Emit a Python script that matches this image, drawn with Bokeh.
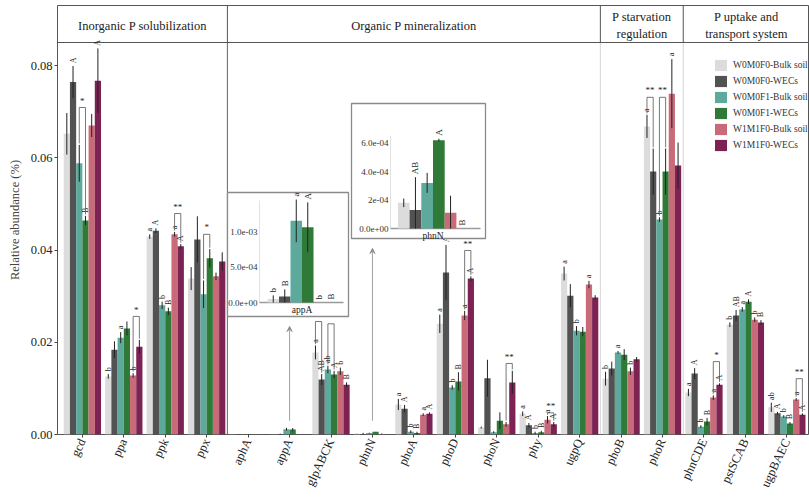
import numpy as np
from bokeh.plotting import figure
from bokeh.models import (Range1d, FixedTicker, NumeralTickFormatter, ColumnDataSource,
                          Label, Arrow, VeeHead, Legend, LegendItem)
from bokeh.core.properties import value
from bokeh.embed import file_html
from bokeh.resources import INLINE

# ---------------- data ----------------
genes = ["gcd", "ppa", "ppk", "ppx", "aphA", "appA", "glpABCK", "phnN", "phoA", "phoD",
         "phoN", "phy", "ugpQ", "phoB", "phoR", "phnCDE", "pstSCAB", "ugpBAEC"]
series_names = ["W0M0F0-Bulk soil", "W0M0F0-WECs", "W0M0F1-Bulk soil",
                "W0M0F1-WECs", "W1M1F0-Bulk soil", "W1M1F0-WECs"]
series_colors = ["#DCDCDC", "#525252", "#5DA99B", "#2F7A37", "#C96A78", "#7C2353"]

w0m0f0_bulk = [0.0652, 0.0126, 0.0429, 0.0338, 0.00005, 0.00005, 0.0178, 0.00018, 0.0065,
               0.0240, 0.0015, 0.0045, 0.0349, 0.0121, 0.0668, 0.0091, 0.0238, 0.0059]
w0m0f0_wecs = [0.0764, 0.0184, 0.0442, 0.0423, 0.00003, 0.000085, 0.0119, 0.00013, 0.0056,
               0.0351, 0.0122, 0.0020, 0.0301, 0.0143, 0.0570, 0.0132, 0.0258, 0.0046]
w0m0f1_bulk = [0.0588, 0.0210, 0.0280, 0.0304, 0.00008, 0.00115, 0.0141, 0.00032, 0.0006,
               0.0102, 0.0005, 0.0003, 0.0225, 0.0178, 0.0466, 0.0017, 0.0271, 0.0039]
w0m0f1_wecs = [0.0464, 0.0230, 0.0267, 0.0382, 0.00006, 0.00106, 0.0130, 0.00062, 0.0003,
               0.0115, 0.0030, 0.0005, 0.0223, 0.0173, 0.0570, 0.0028, 0.0288, 0.0024]
w1m1f0_bulk = [0.0670, 0.0128, 0.0434, 0.0343, 0.00003, 0.0, 0.0137, 0.00011, 0.0043,
               0.0258, 0.0022, 0.0032, 0.0325, 0.0137, 0.0739, 0.0080, 0.0249, 0.0076]
w1m1f0_wecs = [0.0767, 0.0190, 0.0408, 0.0375, 0.00002, 0.0, 0.0108, 0.0, 0.0045,
               0.0338, 0.0113, 0.0022, 0.0297, 0.0163, 0.0583, 0.0108, 0.0243, 0.0043]

err_w0m0f0_bulk = [0.0045, 0.0005, 0.0005, 0.0025, 0.00002, 0.00005, 0.0015, 0.00003, 0.0012,
                   0.0020, 0.0002, 0.0005, 0.0015, 0.0015, 0.0025, 0.0008, 0.0005, 0.0010]
err_w0m0f0_wecs = [0.0035, 0.0018, 0.0005, 0.0050, 0.00002, 0.0001, 0.0012, 0.00023, 0.0008,
                   0.0060, 0.0040, 0.0005, 0.0025, 0.0015, 0.0050, 0.0012, 0.0012, 0.0003]
err_w0m0f1_bulk = [0.0040, 0.0012, 0.0008, 0.0030, 0.00004, 0.0003, 0.0008, 0.00007, 0.0003,
                   0.0005, 0.0002, 0.0003, 0.0010, 0.0003, 0.0005, 0.0003, 0.0005, 0.0003]
err_w0m0f1_wecs = [0.0010, 0.0015, 0.0008, 0.0020, 0.00003, 0.00035, 0.0008, 0.00001, 0.0003,
                   0.0020, 0.0018, 0.0003, 0.0010, 0.0012, 0.0050, 0.0008, 0.0005, 0.0003]
err_w1m1f0_bulk = [0.0025, 0.0005, 0.0005, 0.0008, 0.00002, 0.0, 0.0008, 0.00012, 0.0003,
                   0.0010, 0.0005, 0.0008, 0.0008, 0.0008, 0.0075, 0.0005, 0.0005, 0.0003]
err_w1m1f0_wecs = [0.0070, 0.0015, 0.0005, 0.0020, 0.00001, 0.0, 0.0005, 0.0, 0.0003,
                   0.0005, 0.0025, 0.0005, 0.0005, 0.0005, 0.0050, 0.0003, 0.0005, 0.0003]

let_w0m0f0_bulk = ["", "b", "a", "", "", "", "a", "", "a", "a", "", "a", "a", "b", "a", "a", "b", "ab"]
let_w0m0f0_wecs = ["A", "", "A", "", "", "", "AB", "", "A", "A", "", "A", "", "", "", "A", "AB", "A"]
let_w0m0f1_bulk = ["", "a", "b", "", "", "", "ab", "", "b", "b", "", "b", "b", "a", "b", "b", "a", "b"]
let_w0m0f1_wecs = ["B", "", "B", "", "", "", "A", "", "B", "B", "", "B", "", "", "", "B", "A", "B"]
let_w1m1f0_bulk = ["", "b", "a", "", "", "", "b", "", "a", "a", "", "a", "a", "b", "a", "a", "b", "a"]
let_w1m1f0_wecs = ["A", "", "A", "", "", "", "B", "", "A", "A", "", "A", "", "", "", "A", "B", "A"]

# significance brackets between bulk soil and WECs of one treatment
bracket_gene = ["gcd", "ppa", "ppk", "ppx", "glpABCK", "glpABCK", "phoD", "phoN", "phy",
                "phoR", "phoR", "phnCDE", "ugpBAEC"]
bracket_treat = ["W0M0F1", "W1M1F0", "W1M1F0", "W0M0F1", "W0M0F0", "W0M0F1", "W1M1F0",
                 "W1M1F0", "W1M1F0", "W0M0F0", "W0M0F1", "W1M1F0", "W1M1F0"]
bracket_top = [0.0709, 0.0256, 0.0479, 0.0434, 0.0245, 0.0240, 0.0399, 0.0154, 0.0047,
               0.0731, 0.0731, 0.0158, 0.0121]
bracket_star = ["*", "*", "**", "*", "**", "*", "**", "**", "**", "**", "**", "*", "**"]
treatments = ["W0M0F0", "W0M0F1", "W1M1F0"]

group_names = ["Inorganic P solubilization", "Organic P mineralization",
               "P starvation\nregulation", "P uptake and\ntransport system"]
group_first = ["gcd", "aphA", "phoB", "phnCDE"]
group_last = ["ppx", "ugpQ", "phoR", "ugpBAEC"]

y_ticks = [0.0, 0.02, 0.04, 0.06, 0.08]

appA_letters = ["b", "B", "a", "A", "b", "B"]
appA_ticks = [0.0, 0.0005, 0.001]
appA_tick_labels = ["0.0e+00", "5.0e-04", "1.0e-03"]
phnN_letters = ["", "AB", "", "A", "", "B"]
phnN_ticks = [0.0, 0.0002, 0.0004, 0.0006]
phnN_tick_labels = ["0.0e+00", "2e-04", "4.0e-04", "6.0e-04"]

values = [w0m0f0_bulk, w0m0f0_wecs, w0m0f1_bulk, w0m0f1_wecs, w1m1f0_bulk, w1m1f0_wecs]
errors = [err_w0m0f0_bulk, err_w0m0f0_wecs, err_w0m0f1_bulk, err_w0m0f1_wecs,
          err_w1m1f0_bulk, err_w1m1f0_wecs]
letters = [let_w0m0f0_bulk, let_w0m0f0_wecs, let_w0m0f1_bulk, let_w0m0f1_wecs,
           let_w1m1f0_bulk, let_w1m1f0_wecs]

# ---------------- layout ----------------
FONT = value("Liberation Serif")
FIG_W, FIG_H = 809, 502
FRAME_L, FRAME_T, FRAME_R, FRAME_B = 57, 5, 809, 434   # page px
W = FRAME_R - FRAME_L
H = FRAME_B - FRAME_T
XR = (0.4, 0.4 + W / 41.44)
YR = (0.0, H * 0.08 / 369.0)
HEADER_Y = (FRAME_B - 42) * 0.08 / 369.0
BAR_W = 0.15
offsets = [(k - 2.5) * BAR_W for k in range(6)]
gx = np.arange(1, len(genes) + 1, dtype=float)


def px2x(px):
    return XR[0] + (px - FRAME_L) * (XR[1] - XR[0]) / W


def py2y(py):
    return YR[0] + (FRAME_B - py) * (YR[1] - YR[0]) / H


p = figure(width=FIG_W, height=FIG_H, x_range=Range1d(*XR), y_range=Range1d(*YR),
           output_backend="svg", toolbar_location=None,
           min_border_left=FRAME_L, min_border_right=FIG_W - FRAME_R,
           min_border_top=FRAME_T, min_border_bottom=FIG_H - FRAME_B)
p.background_fill_color = "white"
p.border_fill_color = "white"
p.outline_line_color = "#555555"
p.outline_line_width = 1
p.xgrid.visible = False
p.ygrid.visible = False

# axes
p.xaxis.ticker = FixedTicker(ticks=list(gx))
p.xaxis.major_label_overrides = {float(i + 1): g for i, g in enumerate(genes)}
p.xaxis.major_label_orientation = 1.13
p.xaxis.major_label_text_font = "Liberation Serif"
p.xaxis.major_label_text_font_size = "12.5px"
p.xaxis.major_label_text_color = "#222222"
p.xaxis.axis_line_color = None
p.xaxis.major_tick_out = 3
p.xaxis.major_tick_in = 0
p.xaxis.minor_tick_line_color = None
p.xaxis.major_tick_line_color = "#444444"
p.xaxis.major_label_standoff = 2

p.yaxis.ticker = FixedTicker(ticks=y_ticks)
p.yaxis.formatter = NumeralTickFormatter(format="0.00")
p.yaxis.major_label_text_font = "Liberation Serif"
p.yaxis.major_label_text_font_size = "12.5px"
p.yaxis.major_label_text_color = "#222222"
p.yaxis.axis_line_color = None
p.yaxis.major_tick_out = 3
p.yaxis.major_tick_in = 0
p.yaxis.minor_tick_line_color = None
p.yaxis.major_tick_line_color = "#444444"
p.yaxis.major_label_standoff = 2
p.yaxis.axis_label = "Relative abundance (%)"
p.yaxis.axis_label_text_font = "Liberation Serif"
p.yaxis.axis_label_text_font_size = "12.5px"
p.yaxis.axis_label_text_font_style = "normal"
p.yaxis.axis_label_standoff = 6

# separators and header
bounds = [genes.index(g) + 1.5 for g in group_last[:-1]]
p.segment(x0=bounds, y0=[HEADER_Y] * 3, x1=bounds, y1=[YR[1]] * 3,
          line_color="#555555", line_width=1)
p.segment(x0=bounds[:1], y0=[0], x1=bounds[:1], y1=[HEADER_Y], line_color="#666666", line_width=1)
p.segment(x0=bounds[1:], y0=[0, 0], x1=bounds[1:], y1=[HEADER_Y, HEADER_Y],
          line_color="#d4d4d4", line_width=1)
p.segment(x0=[XR[0]], y0=[HEADER_Y], x1=[XR[1]], y1=[HEADER_Y], line_color="#555555", line_width=1)

g_start = [XR[0]] + bounds
g_end = bounds + [XR[1]]
g_center = [(a + b) / 2 for a, b in zip(g_start, g_end)]
p.text(x=g_center, y=[py2y(25)] * 4, text=group_names, text_align="center",
       text_baseline="middle", text_font=FONT, text_font_size=value("12.5px"),
       text_color="#222222", text_line_height=1.25)

# main bars
renderers = []
for k in range(6):
    xs = gx + offsets[k]
    v = np.array(values[k])
    e = np.array(errors[k])
    src = ColumnDataSource(dict(x=xs, top=v))
    r = p.vbar(x="x", top="top", bottom=0, width=BAR_W, fill_color=series_colors[k],
               line_color=None, source=src)
    renderers.append(r)
    p.segment(x0=xs, y0=np.maximum(v - e, 0), x1=xs, y1=v + e, line_color="#222222", line_width=1)
    lx = [xs[i] for i in range(len(genes)) if letters[k][i]]
    ly = [v[i] + e[i] + 0.0006 for i in range(len(genes)) if letters[k][i]]
    lt = [letters[k][i] for i in range(len(genes)) if letters[k][i]]
    p.text(x=lx, y=ly, text=lt, angle=np.pi / 2, text_align="left", text_baseline="middle",
           text_font=FONT, text_font_size=value("8px"), text_color="#222222")

# significance brackets
bx0, by0, bx1, by1, sx, sy = [], [], [], [], [], []
for g, t, top in zip(bracket_gene, bracket_treat, bracket_top):
    gi = genes.index(g)
    ti = treatments.index(t)
    k1, k2 = 2 * ti, 2 * ti + 1
    x1 = gx[gi] + offsets[k1]
    x2 = gx[gi] + offsets[k2]
    y1 = values[k1][gi] + errors[k1][gi] + 0.0003
    y2 = values[k2][gi] + errors[k2][gi] + 0.0003
    bx0 += [x1, x2, x1]
    by0 += [y1, y2, top]
    bx1 += [x1, x2, x2]
    by1 += [top, top, top]
    sx.append((x1 + x2) / 2)
    sy.append(top + 0.0004)
p.segment(x0=bx0, y0=by0, x1=bx1, y1=by1, line_color="#555555", line_width=0.8)
p.text(x=sx, y=sy, text=bracket_star, text_align="center", text_baseline="bottom",
       text_font=FONT, text_font_size=value("9px"), text_color="#222222")


# ---------------- insets ----------------
def draw_inset(name, box, center_px, bar_px, zero_py, per_px, yaxis_px, xaxis_end_px,
               yaxis_top_py, label_py, ticks, tick_labels, ins_letters):
    gi = genes.index(name)
    unit_px = bar_px / BAR_W
    xs0 = 1 - (center_px - FRAME_L) / unit_px
    ys0 = -(FRAME_B - zero_py) * per_px
    xr_name, yr_name = name + "_x", name + "_y"
    p.extra_x_ranges[xr_name] = Range1d(xs0, xs0 + W / unit_px)
    p.extra_y_ranges[yr_name] = Range1d(ys0, ys0 + H * per_px)

    def ix(px):
        return xs0 + (px - FRAME_L) / unit_px

    def iy(py):
        return ys0 + (FRAME_B - py) * per_px

    kw = dict(x_range_name=xr_name, y_range_name=yr_name)
    l, t, r, b = box
    p.quad(left=[px2x(l)], right=[px2x(r)], top=[py2y(t)], bottom=[py2y(b)],
           fill_color="white", line_color="#8a8a8a", line_width=1.3)
    p.segment(x0=[ix(yaxis_px)], y0=[0], x1=[ix(yaxis_px)], y1=[iy(yaxis_top_py)],
              line_color="#e2e2e2", line_width=1, **kw)
    p.segment(x0=[ix(yaxis_px)], y0=[0], x1=[ix(xaxis_end_px)], y1=[0],
              line_color="#9a9a9a", line_width=1.5, **kw)
    p.text(x=[ix(yaxis_px - 2)] * len(ticks), y=ticks, text=tick_labels, text_align="right",
           text_baseline="middle", text_font=FONT, text_font_size=value("9px"),
           text_color="#333333", **kw)
    p.text(x=[1.0], y=[iy(label_py)], text=[name], text_align="center", text_baseline="middle",
           text_font=FONT, text_font_size=value("9.5px"), text_color="#222222", **kw)
    for k in range(6):
        xk = 1.0 + offsets[k]
        v = values[k][gi]
        e = errors[k][gi]
        p.vbar(x=[xk], top=[v], bottom=0, width=BAR_W, fill_color=series_colors[k],
               line_color=None, **kw)
        if e > 0:
            p.segment(x0=[xk], y0=[max(v - e, 0)], x1=[xk], y1=[v + e], line_color="#222222",
                      line_width=1, **kw)
        if ins_letters[k]:
            p.text(x=[xk], y=[v + e + 3 * per_px], text=[ins_letters[k]], angle=np.pi / 2,
                   text_align="left", text_baseline="middle", text_font=FONT,
                   text_font_size=value("9px"), text_color="#222222", **kw)
    p.add_layout(Arrow(end=VeeHead(size=5, line_color="#8a8a8a", fill_color="#8a8a8a"),
                       x_start=gx[gi], y_start=0.003, x_end=gx[gi], y_end=py2y(b + 10),
                       line_color="#a0a0a0", line_width=1))


draw_inset("appA", (227, 192, 348, 316), 301.5, 11.5, 302, 0.001 / 71, 259, 343, 200, 309,
           appA_ticks, appA_tick_labels, appA_letters)
draw_inset("phnN", (351, 103, 485, 238), 432.5, 11.7, 228, 0.0002 / 28.5, 390, 480, 135, 235,
           phnN_ticks, phnN_tick_labels, phnN_letters)

# legend
legend = Legend(items=[LegendItem(label=series_names[k], renderers=[renderers[k]]) for k in range(6)],
                location=(713 - FRAME_L, FRAME_B - 152), orientation="vertical")
legend.glyph_width = 15
legend.glyph_height = 14
legend.label_height = 14
legend.spacing = 2
legend.padding = 0
legend.margin = 0
legend.label_standoff = 5
legend.border_line_color = None
legend.background_fill_alpha = 0
legend.label_text_font = "Liberation Serif"
legend.label_text_font_size = "9.5px"
legend.label_text_color = "#333333"
p.add_layout(legend)

# panel letter and x axis title
p.add_layout(Label(x=px2x(38), y=py2y(12), text="B", text_align="left", text_baseline="middle",
                   text_font="Liberation Serif", text_font_size="11px", text_font_style="bold"))
p.add_layout(Label(x=px2x(436), y=py2y(492), text="Gene name", text_align="center",
                   text_baseline="middle", text_font="Liberation Serif", text_font_size="12.5px",
                   text_color="#222222"))

open("out.html", "w").write(file_html(p, INLINE))
